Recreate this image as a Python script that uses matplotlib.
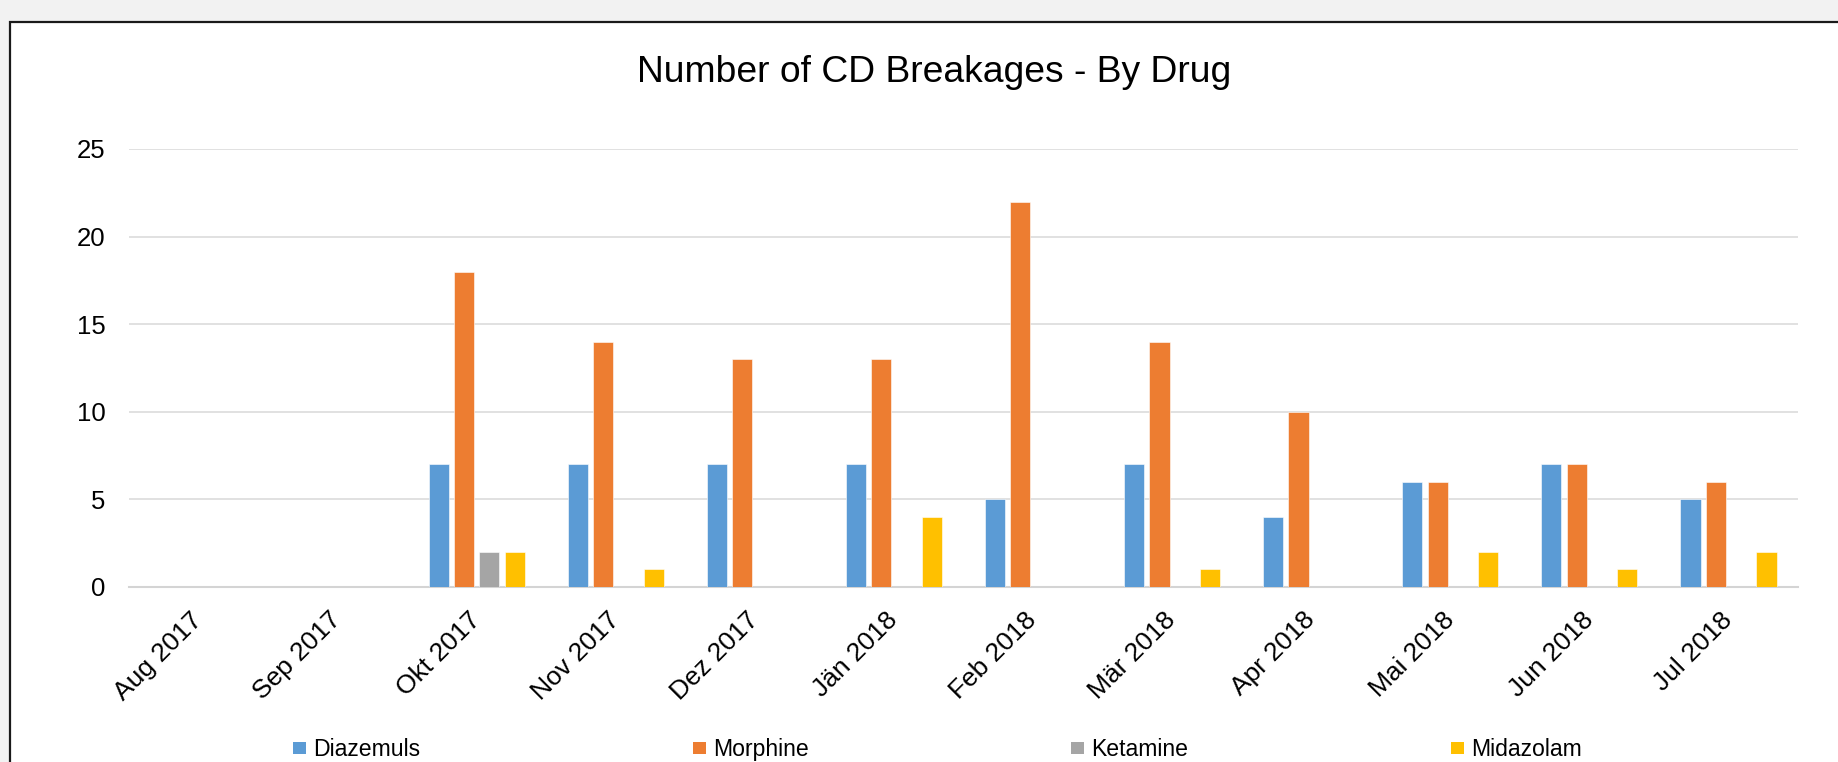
import matplotlib
matplotlib.use("Agg")
import matplotlib.pyplot as plt
from matplotlib.patches import Rectangle
import numpy as np

plt.rcParams['font.family'] = ['Liberation Sans', 'DejaVu Sans']

months = ["Aug 2017", "Sep 2017", "Okt 2017", "Nov 2017", "Dez 2017", "Jän 2018",
          "Feb 2018", "Mär 2018", "Apr 2018", "Mai 2018", "Jun 2018", "Jul 2018"]
diazemuls = [0, 0, 7, 7, 7, 7, 5, 7, 4, 6, 7, 5]
morphine  = [0, 0, 18, 14, 13, 13, 22, 14, 10, 6, 7, 6]
ketamine  = [0, 0, 2, 0, 0, 0, 0, 0, 0, 0, 0, 0]
midazolam = [0, 0, 2, 1, 0, 4, 0, 1, 0, 2, 1, 2]
series_names = ["Diazemuls", "Morphine", "Ketamine", "Midazolam"]
colors = ["#5B9BD5", "#ED7D31", "#A5A5A5", "#FFC000"]
title = "Number of CD Breakages - By Drug"
yticks = [0, 5, 10, 15, 20, 25]

W, H = 1838, 762
fig = plt.figure(figsize=(W / 100, H / 100), dpi=100)
fig.patch.set_facecolor("#f2f2f2")

# white chart area with dark frame, kept behind the axes
frame = Rectangle((10 / W, -0.05), 1.05, 1 - 22 / H + 0.05, transform=fig.transFigure,
                  facecolor="white", edgecolor="#1a1a1a", linewidth=1.6, zorder=-10)
fig.patches.append(frame)

ax = fig.add_axes([129 / W, 1 - 587 / H, (1798 - 129) / W, (587 - 149) / H])
ax.set_zorder(1)
ax.set_facecolor("none")

x = np.arange(len(months))
pitch = 0.182
width = 0.145
for i, (vals, c) in enumerate(zip([diazemuls, morphine, ketamine, midazolam], colors)):
    ax.bar(x + (i - 1.5) * pitch, vals, width=width, color=c, zorder=3,
           edgecolor="white", linewidth=0.4)

ax.set_xlim(-0.5, len(months) - 0.5)
ax.set_ylim(0, 25)
ax.set_yticks(yticks)
ax.set_yticklabels([str(v) for v in yticks], fontsize=18.5)
ax.yaxis.grid(True, color="#d9d9d9", linewidth=1.1, zorder=0)
ax.set_axisbelow(True)
for s in ["top", "right", "left"]:
    ax.spines[s].set_visible(False)
ax.spines["bottom"].set_color("#d4d4d4")
ax.spines["bottom"].set_linewidth(1.5)
ax.tick_params(axis="y", length=0, pad=17)
ax.tick_params(axis="x", length=0, pad=21)
ax.set_xticks(x)
ax.set_xticklabels(months, fontsize=19, rotation=45, ha="right", va="center",
                   rotation_mode="anchor")

fig.text(934 / W, 1 - 82 / H, title, fontsize=26.8, ha="center", va="baseline")

# legend along the bottom
legend_x = [293, 693, 1071, 1451]
for lx, name, c in zip(legend_x, series_names, colors):
    fig.patches.append(Rectangle((lx / W, 1 - 754 / H), 13 / W, 12 / H,
                                 transform=fig.transFigure, facecolor=c,
                                 edgecolor="none", zorder=5))
    fig.text((lx + 20) / W, 1 - 756 / H, name, fontsize=16.6, ha="left",
             va="baseline")

fig.savefig("out.png", dpi=100, facecolor=fig.get_facecolor())
